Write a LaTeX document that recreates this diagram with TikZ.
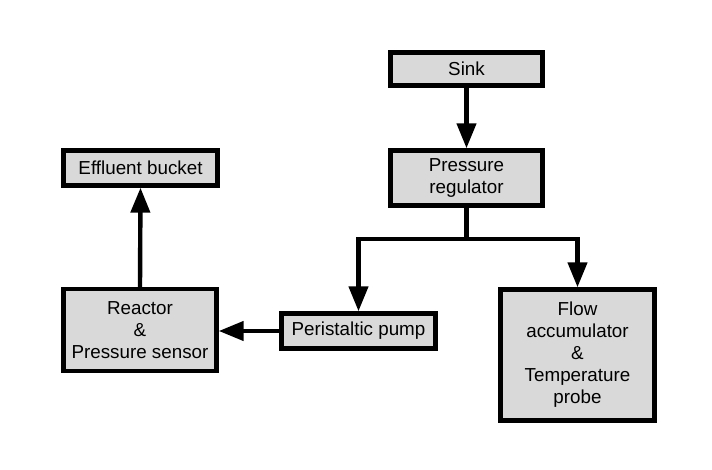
\documentclass[tikz,border=0pt]{standalone}
\usepackage{fontspec}
\setmainfont{Liberation Sans}
\usetikzlibrary{arrows.meta}
\definecolor{boxgray}{RGB}{217,217,217}
\begin{document}
\begin{tikzpicture}[x=1pt,y=1pt,
  box/.style={draw=black, fill=boxgray, line width=4.4pt, rectangle, align=center,
    inner sep=0pt, font=\fontsize{18.8}{22}\selectfont},
  arr/.style={line width=4.4pt, -{Triangle[length=25pt,width=19pt]}},
  ln/.style={line width=4.4pt}]
\useasboundingbox (0,0) rectangle (712,-470);
\fill[white] (0,0) rectangle (712,-470);
\node[box, minimum width=152pt, minimum height=33pt] (sink) at (466.5,-69) {Sink};
\node[box, minimum width=152pt, minimum height=55pt] (pr) at (466.5,-178) {Pressure\\regulator};
\node[box, minimum width=154pt, minimum height=35pt] (eff) at (140.5,-168) {Effluent bucket};
\node[box, minimum width=153pt, minimum height=82pt] (reac) at (140,-330) {Reactor\\\&\\Pressure sensor};
\node[box, minimum width=154pt, minimum height=35pt] (pump) at (358.5,-331) {Peristaltic pump};
\node[box, minimum width=154pt, minimum height=131pt] (flow) at (577.5,-355) {Flow\\accumulator\\\&\\Temperature\\probe};
\coordinate (bus) at (466.5,-239);
\draw[arr] (sink.south) -- (pr.north);
\draw[ln] (pr.south) -- (bus);
\draw[arr] (bus) -| (pump.north);
\draw[arr] (bus) -| (flow.north);
\draw[arr] (reac.north) -- (eff.south);
\draw[arr] (pump.west) -- (reac.east |- pump.west);
\end{tikzpicture}
\end{document}
